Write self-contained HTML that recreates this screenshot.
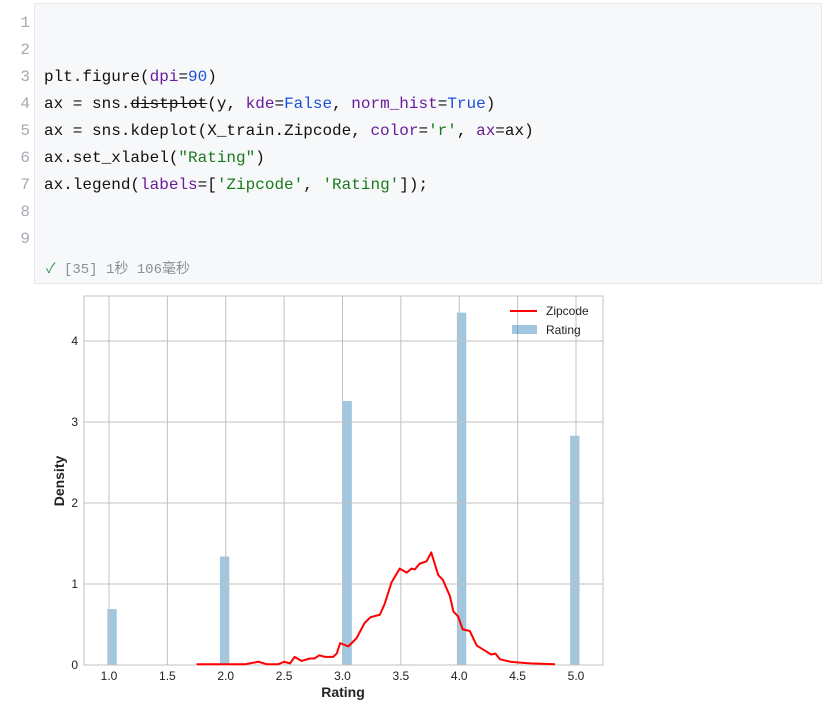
<!DOCTYPE html>
<html><head><meta charset="utf-8"><style>
body{margin:0;width:835px;height:720px;background:#fff;overflow:hidden;position:relative;font-family:"Liberation Sans",sans-serif}
.cell{position:absolute;left:34px;top:3px;width:786px;height:279px;background:#f7f8fa;border:1px solid #e6e8eb}
.ln{position:absolute;left:0;width:30px;text-align:right;font:16px "Liberation Mono",monospace;color:#a4aab2}
.code{position:absolute;left:44px;font:16px "Liberation Mono",monospace;color:#111;white-space:pre}
.k{color:#6a1b9a}.n{color:#1c4fd8}.s{color:#1b7a1b}
</style></head><body>
<div class="cell"></div>
<div>
<div class="ln" style="top:14px">1</div><div class="ln" style="top:41px">2</div><div class="ln" style="top:68px">3</div><div class="ln" style="top:95px">4</div><div class="ln" style="top:122px">5</div><div class="ln" style="top:149px">6</div><div class="ln" style="top:176px">7</div><div class="ln" style="top:203px">8</div><div class="ln" style="top:230px">9</div>
</div>
<div>
<div class="code" style="top:68px">plt.figure(<span class="k">dpi</span>=<span class="n">90</span>)</div>
<div class="code" style="top:95px">ax = sns.<s>distplot</s>(y, <span class="k">kde</span>=<span class="n">False</span>, <span class="k">norm_hist</span>=<span class="n">True</span>)</div>
<div class="code" style="top:122px">ax = sns.kdeplot(X_train.Zipcode, <span class="k">color</span>=<span class="s">'r'</span>, <span class="k">ax</span>=ax)</div>
<div class="code" style="top:149px">ax.set_xlabel(<span class="s">"Rating"</span>)</div>
<div class="code" style="top:176px">ax.legend(<span class="k">labels</span>=[<span class="s">'Zipcode'</span>, <span class="s">'Rating'</span>]);</div>
</div>
<div style="position:absolute;left:46px;top:258px;font:14px 'Liberation Mono','Noto Sans CJK SC',monospace;color:#8a9099"><span style="color:#2e9c4a">✓</span> [35] 1秒 106毫秒</div>
<svg id="chart" width="835" height="720" style="position:absolute;left:0;top:0"></svg>
<script>
const xTicks=[1.0,1.5,2.0,2.5,3.0,3.5,4.0,4.5,5.0];
const yTicks=[0,1,2,3,4];
const barCenters=[1.026,1.99,3.04,4.02,4.99];
const barHeights=[0.69,1.34,3.26,4.35,2.83];
const kdeX=[1.75,2.17,2.28,2.35,2.45,2.50,2.55,2.59,2.65,2.72,2.76,2.80,2.85,2.92,2.95,2.98,3.05,3.12,3.19,3.24,3.32,3.36,3.42,3.49,3.55,3.59,3.62,3.66,3.72,3.76,3.82,3.86,3.92,3.95,3.99,4.03,4.09,4.15,4.24,4.27,4.31,4.35,4.44,4.52,4.61,4.82];
const kdeY=[0.01,0.01,0.04,0.01,0.01,0.04,0.02,0.10,0.05,0.08,0.08,0.12,0.10,0.10,0.14,0.27,0.23,0.33,0.52,0.59,0.62,0.75,1.02,1.19,1.14,1.19,1.18,1.25,1.28,1.39,1.11,1.05,0.85,0.66,0.60,0.44,0.42,0.24,0.16,0.13,0.14,0.07,0.04,0.03,0.02,0.01];
const L=84,R=603,T=296,B=665;
const X=v=>109+(v-1)*116.75, Y=v=>665-v*81;
const svg=document.getElementById('chart'),NS='http://www.w3.org/2000/svg';
function mk(t,a,txt){const e=document.createElementNS(NS,t);for(const k in a)e.setAttribute(k,a[k]);if(txt!==undefined)e.textContent=txt;svg.appendChild(e);return e;}
let e=mk('rect',{x:L,y:T,width:R-L,height:B-T,fill:'#fff',stroke:'#c0c0c0'});

barCenters.forEach((c,i)=>{let b=mk('rect',{x:X(c-0.04),y:Y(barHeights[i]),width:X(c+0.04)-X(c-0.04),height:Y(0)-Y(barHeights[i]),fill:'#1f77b4','fill-opacity':0.42});});
xTicks.forEach(v=>{let g=mk('line',{x1:X(v),x2:X(v),y1:T,y2:B,stroke:'#c0c0c0'});
let t=mk('text',{x:X(v),y:680,'font-size':12,'text-anchor':'middle',fill:'#222'},v.toFixed(1));});
yTicks.forEach(v=>{let g=mk('line',{x1:L,x2:R,y1:Y(v),y2:Y(v),stroke:'#c0c0c0'});
let t=mk('text',{x:78,y:Y(v)+4,'font-size':12,'text-anchor':'end',fill:'#222'},String(v));});
let p=mk('polyline',{points:kdeX.map((x,i)=>X(x)+','+Y(kdeY[i])).join(' '),fill:'none',stroke:'red','stroke-width':2,'stroke-linejoin':'round'});

let t1=mk('text',{x:343,y:697,'font-size':14,'font-weight':'bold','text-anchor':'middle',fill:'#222'},'Rating');
let t2=mk('text',{x:64,y:481,'font-size':14,'font-weight':'bold','text-anchor':'middle',fill:'#222',transform:'rotate(-90 64 481)'},'Density');
let l1=mk('line',{x1:510,x2:537,y1:311,y2:311,stroke:'red','stroke-width':2});
let l2=mk('text',{x:546,y:315,'font-size':12,fill:'#222'},'Zipcode');
let l3=mk('rect',{x:512,y:325,width:25,height:9,fill:'#1f77b4','fill-opacity':0.42});
let l4=mk('text',{x:546,y:334,'font-size':12,fill:'#222'},'Rating');
</script>
</body></html>
